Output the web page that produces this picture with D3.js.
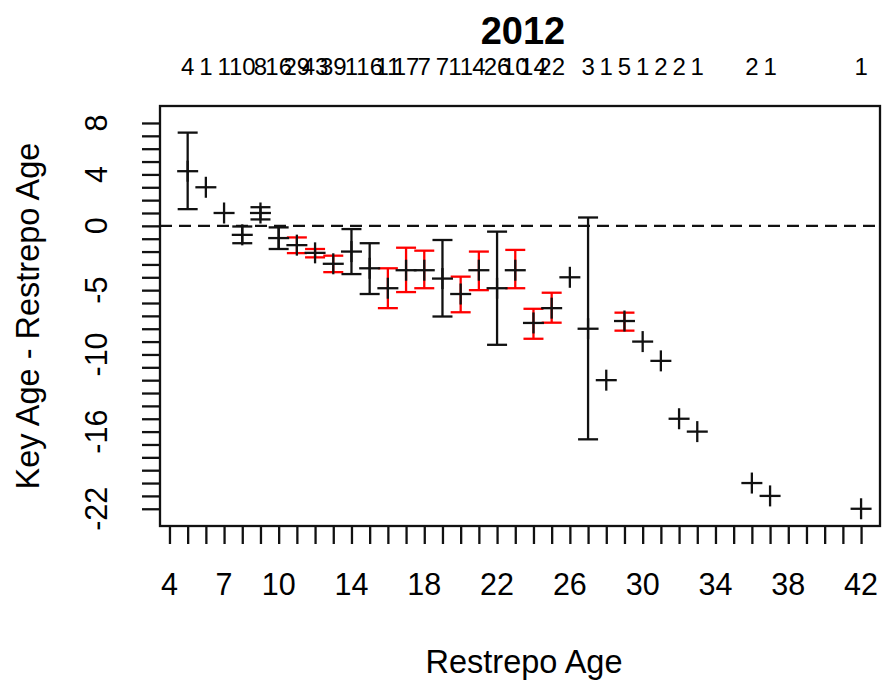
<!DOCTYPE html>
<html>
<head>
<meta charset="utf-8">
<script src="https://cdn.jsdelivr.net/npm/d3@7"></script>
<style>
  html, body { margin: 0; padding: 0; background: #fff; }
  svg { display: block; }
  text { font-family: "Liberation Sans", Arial, sans-serif; fill: #000; }
</style>
</head>
<body>
<svg id="chart" width="885" height="684"></svg>
<script>
// ---- data ----
const chartTitle = "2012";
const xTitle = "Restrepo Age";
const yTitle = "Key Age - Restrepo Age";

const ages      = [5, 6, 7, 8, 9, 10, 11, 12, 13, 14, 15, 16, 17, 18, 19, 20, 21, 22, 23, 24, 25, 26, 27, 28, 29, 30, 31, 32, 33, 36, 37, 42];
const meanDiff  = [4.25, 3, 1, -0.7, 1.0, -0.95, -1.5, -2.1, -2.95, -2.0, -3.3, -4.85, -3.45, -3.45, -4.1, -5.3, -3.45, -4.85, -3.45, -7.55, -6.4, -4, -8, -12, -7.4, -9, -10.5, -15, -16, -20, -21, -22];
const ciLower   = [1.3, null, null, -1.35, 0.5, -1.8, -2.12, -2.45, -3.6, -3.75, -5.3, -6.4, -5.15, -4.85, -7.05, -6.72, -5.0, -9.25, -4.85, -8.78, -7.53, null, -16.6, null, -8.15, null, null, null, null, null, null, null];
const ciUpper   = [7.25, null, null, -0.05, 1.45, -0.12, -0.9, -1.8, -2.32, -0.25, -1.35, -3.3, -1.7, -1.93, -1.1, -3.95, -2.0, -0.45, -1.87, -6.45, -5.2, null, 0.65, null, -6.75, null, null, null, null, null, null, null];
const significant = [false, false, false, false, false, false, true, true, true, false, false, true, true, true, false, true, true, false, true, true, true, false, false, false, true, false, false, false, false, false, false, false];

const nAges   = [5, 6, 7, 8, 9, 10, 11, 12, 13, 14, 15, 16, 17, 18, 19, 20, 21, 22, 23, 24, 25, 27, 28, 29, 30, 31, 32, 33, 36, 37, 42];
const nLabels = ["4", "1", "1", "10", "8", "16", "29", "43", "39", "1", "16", "11", "17", "7", "7", "11", "4", "26", "10", "14", "22", "3", "1", "5", "1", "2", "2", "1", "2", "1", "1"];

const xTickValues = d3.range(4, 43);
const xTickLabels = [4, 7, 10, 14, 18, 22, 26, 30, 34, 38, 42];
const yTickValues = d3.range(-22, 9);
const yTickLabels = [8, 4, 0, -5, -10, -16, -22];
const xLimits = [3.48, 43.04];
const yLimits = [-23.34, 9.32];

// ---- layout ----
const box = { left: 160, right: 880, top: 106, bottom: 526 };
const ink = "#111";
const red = "#ff0000";
const lw = 2.3;

const svg = d3.select("#chart");
const x = d3.scaleLinear().domain(xLimits).range([box.left, box.right]);
const y = d3.scaleLinear().domain(yLimits).range([box.bottom, box.top]);

// axes via d3 (ticks only; labels placed separately to mimic R's overlap skipping)
const xAxis = d3.axisBottom(x).tickValues(xTickValues).tickSize(18).tickFormat("");
const gx = svg.append("g").attr("transform", `translate(0,${box.bottom})`).call(xAxis);
gx.select(".domain").remove();
gx.selectAll("line").attr("stroke", ink).attr("stroke-width", lw);

const yAxis = d3.axisLeft(y).tickValues(yTickValues).tickSize(18).tickFormat("");
const gy = svg.append("g").attr("transform", `translate(${box.left},0)`).call(yAxis);
gy.select(".domain").remove();
gy.selectAll("line").attr("stroke", ink).attr("stroke-width", lw);

// tick labels
svg.append("g").selectAll("text").data(xTickLabels).join("text")
  .attr("x", d => x(d)).attr("y", 595)
  .attr("text-anchor", "middle").attr("font-size", 30.5)
  .text(d => d);

svg.append("g").selectAll("text").data(yTickLabels).join("text")
  .attr("transform", d => `translate(107,${y(d)}) rotate(-90)`)
  .attr("text-anchor", "middle").attr("font-size", 30.5)
  .text(d => d);

// reference line at 0
svg.append("line")
  .attr("x1", box.left).attr("x2", box.right)
  .attr("y1", y(0)).attr("y2", y(0))
  .attr("stroke", ink).attr("stroke-width", lw).attr("stroke-dasharray", "12,7");

// data
const data = ages.map((a, i) => ({
  age: a, mean: meanDiff[i], lo: ciLower[i], hi: ciUpper[i], sig: significant[i]
}));
const withCI = data.filter(d => d.lo !== null);
const capHalf = 10;
const plusHalf = 10.5;

const gci = svg.append("g");
gci.selectAll("line.v").data(withCI).join("line").attr("class", "v")
  .attr("x1", d => x(d.age)).attr("x2", d => x(d.age))
  .attr("y1", d => y(d.lo)).attr("y2", d => y(d.hi))
  .attr("stroke", d => d.sig ? red : ink).attr("stroke-width", lw);
gci.selectAll("line.lo").data(withCI).join("line").attr("class", "lo")
  .attr("x1", d => x(d.age) - capHalf).attr("x2", d => x(d.age) + capHalf)
  .attr("y1", d => y(d.lo)).attr("y2", d => y(d.lo))
  .attr("stroke", d => d.sig ? red : ink).attr("stroke-width", lw);
gci.selectAll("line.hi").data(withCI).join("line").attr("class", "hi")
  .attr("x1", d => x(d.age) - capHalf).attr("x2", d => x(d.age) + capHalf)
  .attr("y1", d => y(d.hi)).attr("y2", d => y(d.hi))
  .attr("stroke", d => d.sig ? red : ink).attr("stroke-width", lw);

const gp = svg.append("g");
gp.selectAll("line.h").data(data).join("line").attr("class", "h")
  .attr("x1", d => x(d.age) - plusHalf).attr("x2", d => x(d.age) + plusHalf)
  .attr("y1", d => y(d.mean)).attr("y2", d => y(d.mean))
  .attr("stroke", ink).attr("stroke-width", lw);
gp.selectAll("line.vv").data(data).join("line").attr("class", "vv")
  .attr("x1", d => x(d.age)).attr("x2", d => x(d.age))
  .attr("y1", d => y(d.mean) - plusHalf).attr("y2", d => y(d.mean) + plusHalf)
  .attr("stroke", ink).attr("stroke-width", lw);

// box
svg.append("rect")
  .attr("x", box.left).attr("y", box.top)
  .attr("width", box.right - box.left).attr("height", box.bottom - box.top)
  .attr("fill", "none").attr("stroke", ink).attr("stroke-width", lw);

// sample sizes on top
svg.append("g").selectAll("text").data(nAges.map((a, i) => ({ a, t: nLabels[i] }))).join("text")
  .attr("x", d => x(d.a)).attr("y", 74.5)
  .attr("text-anchor", "middle").attr("font-size", 24)
  .text(d => d.t);

// titles
svg.append("text").attr("x", 523).attr("y", 44).attr("text-anchor", "middle")
  .attr("font-size", 38).attr("font-weight", "bold").text(chartTitle);
svg.append("text").attr("x", 524).attr("y", 673).attr("text-anchor", "middle")
  .attr("font-size", 32.5).text(xTitle);
svg.append("text").attr("transform", `translate(39,${(box.top + box.bottom) / 2}) rotate(-90)`)
  .attr("text-anchor", "middle").attr("font-size", 32.5).text(yTitle);
</script>
</body>
</html>
